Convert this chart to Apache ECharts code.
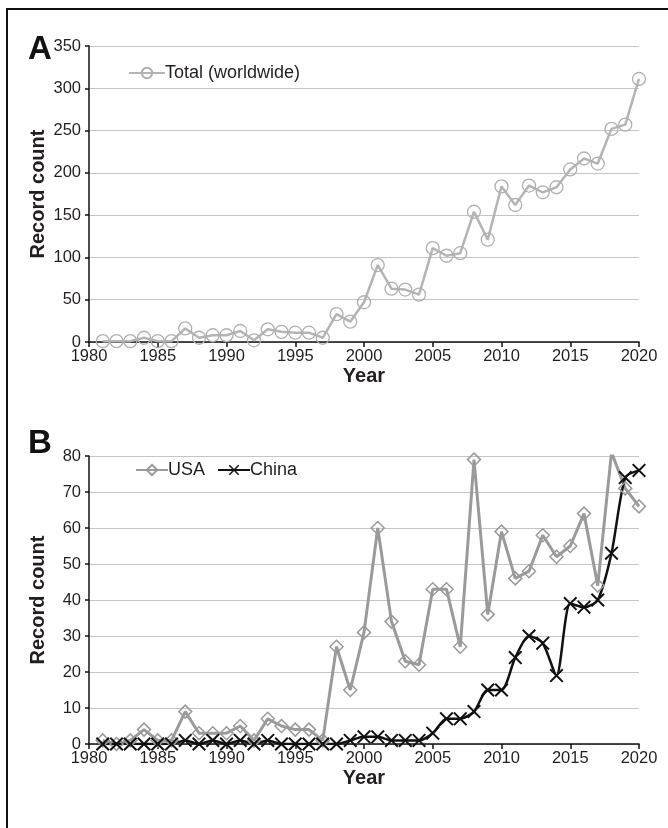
<!DOCTYPE html>
<html>
<head>
<meta charset="utf-8">
<script src="https://cdn.jsdelivr.net/npm/echarts@6/dist/echarts.min.js"></script>
<style>
  html, body { margin: 0; padding: 0; background: #fff; }
  #frame { position: absolute; left: 6px; top: 8px; width: 662px; height: 820px;
           border-left: 2px solid #111; border-top: 2px solid #111; }
  #chart { position: absolute; left: 0; top: 0; width: 668px; height: 828px; }
</style>
</head>
<body>
<div id="frame"></div>
<div id="chart"></div>
<script>
const years = []
for (let y = 1981; y <= 2020; y++) years.push(y)

const totalWorldwide = [1, 1, 1, 5, 1, 1, 16, 5, 8, 8, 13, 2, 15, 12, 11, 11, 5, 33, 24, 47,
  91, 63, 62, 56, 111, 102, 105, 154, 121, 184, 162, 185, 177, 183, 204, 217, 211, 252, 257, 311]
const usa = [1, 0, 1, 4, 1, 1, 9, 3, 3, 3, 5, 1, 7, 5, 4, 4, 1, 27, 15, 31,
  60, 34, 23, 22, 43, 43, 27, 79, 36, 59, 46, 48, 58, 52, 55, 64, 44, 81, 71, 66]
const china = [0, 0, 0, 0, 0, 0, 1, 0, 1, 0, 1, 0, 1, 0, 0, 0, 0, 0, 1, 2,
  2, 1, 1, 1, 3, 7, 7, 9, 15, 15, 24, 30, 28, 19, 39, 38, 40, 53, 74, 76]

const pairs = (vals) => years.map((y, i) => [y, vals[i]])

const font = '"Liberation Sans", Arial, sans-serif'
const ink = '#231f20'
const crossPath = 'path://M0,1L1,0L5,4L9,0L10,1L6,5L10,9L9,10L5,6L1,10L0,9L4,5Z'

function xAxis(gridIndex) {
  return {
    gridIndex,
    type: 'value',
    min: 1980,
    max: 2020,
    interval: 5,
    name: 'Year',
    nameLocation: 'middle',
    nameGap: 24,
    nameMoveOverlap: false,
    nameTextStyle: { fontFamily: font, fontSize: 20, fontWeight: 'bold', color: ink, verticalAlign: 'top' },
    axisLine: { lineStyle: { color: '#111', width: 1.5 } },
    axisTick: { show: true, length: 5, lineStyle: { color: '#111', width: 1.5 } },
    axisLabel: { fontFamily: font, fontSize: 16.5, color: ink, margin: 6, formatter: (v) => String(v) },
    splitLine: { show: false },
  }
}

function yAxis(gridIndex, max, interval) {
  return {
    gridIndex,
    type: 'value',
    min: 0,
    max,
    interval,
    name: 'Record count',
    nameLocation: 'middle',
    nameGap: 41,
    nameMoveOverlap: false,
    nameTextStyle: { fontFamily: font, fontSize: 20, fontWeight: 'bold', color: ink },
    axisLine: { show: true, lineStyle: { color: '#111', width: 1.5 } },
    axisTick: { show: true, length: 4, lineStyle: { color: '#111', width: 1.5 } },
    axisLabel: { fontFamily: font, fontSize: 16.5, color: ink, margin: 8 },
    splitLine: { show: true, lineStyle: { color: '#c4c4c4', width: 1.2 } },
  }
}

const chart = echarts.init(document.getElementById('chart'))
chart.setOption({
  animation: false,
  title: [
    { text: 'A', left: 23, top: 28, textStyle: { fontFamily: font, fontSize: 33, fontWeight: 'bold', color: '#111' } },
    { text: 'B', left: 23, top: 422, textStyle: { fontFamily: font, fontSize: 33, fontWeight: 'bold', color: '#111' } },
  ],
  grid: [
    { left: 89, right: 29, top: 46, height: 296 },
    { left: 89, right: 29, top: 456, height: 288 },
  ],
  legend: [
    {
      data: ['Total (worldwide)'],
      left: 123, top: 59,
      itemWidth: 36, itemHeight: 13,
      textStyle: { fontFamily: font, fontSize: 18, color: ink, padding: [0, 0, 0, -5] },
    },
    {
      data: ['USA', 'China'],
      left: 130, top: 456,
      itemWidth: 32, itemHeight: 13, itemGap: 12,
      textStyle: { fontFamily: font, fontSize: 18, color: ink, padding: [0, 0, 0, -5] },
    },
  ],
  xAxis: [xAxis(0), xAxis(1)],
  yAxis: [yAxis(0, 350, 50), yAxis(1, 80, 10)],
  series: [
    {
      name: 'Total (worldwide)',
      type: 'line',
      xAxisIndex: 0, yAxisIndex: 0,
      data: pairs(totalWorldwide),
      symbol: 'circle',
      symbolSize: 13,
      lineStyle: { color: '#b4b4b4', width: 2.5 },
      itemStyle: { color: 'rgba(255,255,255,0)', borderColor: '#b0b0b0', borderWidth: 1.3 },
    },
    {
      name: 'USA',
      type: 'line',
      xAxisIndex: 1, yAxisIndex: 1,
      data: pairs(usa),
      symbol: 'diamond',
      symbolSize: 13,
      lineStyle: { color: '#9a9a9a', width: 3 },
      itemStyle: { color: 'rgba(255,255,255,0)', borderColor: '#9a9a9a', borderWidth: 1.5 },
    },
    {
      name: 'China',
      type: 'line',
      xAxisIndex: 1, yAxisIndex: 1,
      data: pairs(china),
      smooth: 0.25,
      symbol: crossPath,
      symbolSize: 14,
      lineStyle: { color: '#111', width: 2.5 },
      itemStyle: { color: '#111' },
      z: 3,
    },
  ],
})
</script>
</body>
</html>
